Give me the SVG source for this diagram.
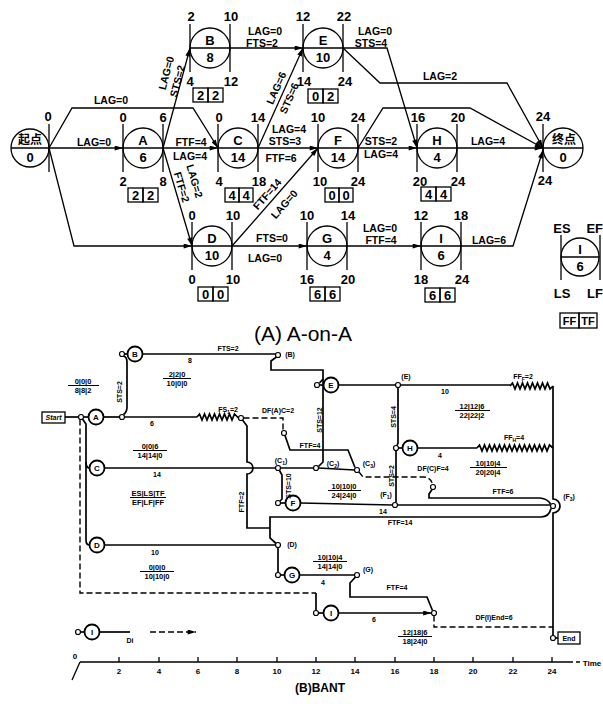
<svg xmlns="http://www.w3.org/2000/svg" width="603" height="709" viewBox="0 0 603 709">
<defs>
<style>
.l{stroke:#000;stroke-width:1.3;fill:none}
.n circle,.n line,.n rect{stroke:#000;stroke-width:1.3;fill:none}
.t{font-family:"Liberation Sans",Arial,sans-serif;font-weight:bold;fill:#000;text-anchor:middle}
.num{font-size:13px}
.lb{font-size:10.5px}
.cjk{font-family:"Liberation Sans","Noto Sans CJK SC",sans-serif;font-weight:bold;font-size:12px;text-anchor:middle}
.bl{stroke:#000;stroke-width:1.7;fill:none}
.bd{stroke:#000;stroke-width:1.4;fill:none;stroke-dasharray:6 3}
.bn circle{stroke:#000;stroke-width:1.8;fill:#fff}
.dot{fill:#fff;stroke:#000;stroke-width:1.2}
.s{font-size:7px}
.fr line{stroke:#000;stroke-width:1}
</style>
<marker id="ar" viewBox="0 0 10 6" refX="10" refY="3" markerWidth="9" markerHeight="5" orient="auto" markerUnits="userSpaceOnUse"><path d="M0,0 L10,3 L0,6 z" fill="#000"/></marker>
</defs>
<rect width="603" height="709" fill="#fff"/>

<!-- ===== (A) A-on-A ===== -->
<g id="aoa-edges" class="l">
<path d="M49,148 L123,148" marker-end="url(#ar)"/>
<path d="M49,148 L72,108 L193,108 L218,148" marker-end="url(#ar)"/>
<path d="M49,148 L74,246 L192,246" marker-end="url(#ar)"/>
<path d="M163,148 L218,148" marker-end="url(#ar)"/>
<path d="M163,148 L190,48" marker-end="url(#ar)"/>
<path d="M163,148 L192,246" marker-end="url(#ar)"/>
<path d="M230,48 L303,48" marker-end="url(#ar)"/>
<path d="M258,148 L303,48" marker-end="url(#ar)"/>
<path d="M258,148 L318,148" marker-end="url(#ar)"/>
<path d="M232,246 L318,148" marker-end="url(#ar)"/>
<path d="M232,246 L307,246" marker-end="url(#ar)"/>
<path d="M343,48 L387,48 L417,148" marker-end="url(#ar)"/>
<path d="M343,48 L380,83 L507,83 L543,148" marker-end="url(#ar)"/>
<path d="M358,148 L417,148" marker-end="url(#ar)"/>
<path d="M358,148 L383,108 L470,108 L543,148" marker-end="url(#ar)"/>
<path d="M457,148 L543,148" marker-end="url(#ar)"/>
<path d="M347,246 L421,246" marker-end="url(#ar)"/>
<path d="M461,246 L513,246 L543,150" marker-end="url(#ar)"/>
</g>
<g id="aoa-edge-labels" class="t lb">
<text x="111" y="104">LAG=0</text>
<text x="94" y="146">LAG=0</text>
<text x="191" y="146">FTF=4</text>
<text x="190" y="160">LAG=4</text>
<text transform="translate(166,73) rotate(-75)" y="4">LAG=0</text>
<text transform="translate(177,81) rotate(-75)" y="4">STS=2</text>
<text transform="translate(195,181) rotate(73.5)" y="4">LAG=2</text>
<text transform="translate(182,187) rotate(73.5)" y="4">FTF=2</text>
<text x="265" y="35">LAG=0</text>
<text x="262" y="47">FTS=2</text>
<text transform="translate(276,88) rotate(-66)" y="4">LAG=6</text>
<text transform="translate(289,98) rotate(-66)" y="4">STS=6</text>
<text x="289" y="133">LAG=4</text>
<text x="285" y="145">STS=3</text>
<text x="281" y="162">FTF=6</text>
<text x="375" y="35">LAG=0</text>
<text x="371" y="47">STS=4</text>
<text x="440" y="80">LAG=2</text>
<text x="381" y="145">STS=2</text>
<text x="381" y="158">LAG=4</text>
<text x="488" y="145">LAG=4</text>
<text transform="translate(267,194) rotate(-49)" y="4">FTF=14</text>
<text transform="translate(284,204) rotate(-49)" y="4">LAG=0</text>
<text x="272" y="242">FTS=0</text>
<text x="265" y="262">LAG=0</text>
<text x="380" y="232">LAG=0</text>
<text x="381" y="244">FTF=4</text>
<text x="489" y="244">LAG=6</text>
</g>

<g id="start" class="n">
<circle cx="30" cy="148" r="19"/>
<line x1="11" y1="148" x2="49" y2="148"/>
<line x1="49" y1="124" x2="49" y2="172"/>
<text class="cjk" x="30" y="144">起点</text>
<text class="t num" x="30" y="162">0</text>
<text class="t num" x="48" y="121">0</text>
</g>
<g id="end" class="n">
<circle cx="563" cy="148" r="20"/>
<line x1="543" y1="148" x2="583" y2="148"/>
<line x1="543" y1="124" x2="543" y2="172"/>
<text class="cjk" x="564" y="144">终点</text>
<text class="t num" x="563" y="162">0</text>
<text class="t num" x="543" y="121">24</text>
<text class="t num" x="545" y="185">24</text>
</g>

<g id="nA" class="n">
<circle cx="143" cy="148" r="20"/><line x1="123" y1="148" x2="163" y2="148"/>
<line x1="123" y1="124" x2="123" y2="172"/><line x1="163" y1="124" x2="163" y2="172"/>
<text class="t num" x="143" y="145">A</text><text class="t num" x="143" y="162">6</text>
<text class="t num" x="123" y="122">0</text><text class="t num" x="163" y="122">6</text>
<text class="t num" x="123" y="186">2</text><text class="t num" x="163" y="186">8</text>
<rect x="128" y="188" width="15" height="14"/><rect x="143" y="188" width="15" height="14"/>
<text class="t num" x="135.5" y="200">2</text><text class="t num" x="150.5" y="200">2</text>
</g>
<g id="nB" class="n">
<circle cx="210" cy="48" r="20"/><line x1="190" y1="48" x2="230" y2="48"/>
<line x1="190" y1="24" x2="190" y2="72"/><line x1="230" y1="24" x2="230" y2="72"/>
<text class="t num" x="210" y="45">B</text><text class="t num" x="210" y="62">8</text>
<text class="t num" x="191" y="21">2</text><text class="t num" x="231" y="21">10</text>
<text class="t num" x="190" y="86">4</text><text class="t num" x="231" y="86">12</text>
<rect x="193" y="88" width="15" height="14"/><rect x="208" y="88" width="15" height="14"/>
<text class="t num" x="200.5" y="100">2</text><text class="t num" x="215.5" y="100">2</text>
</g>
<g id="nC" class="n">
<circle cx="238" cy="148" r="20"/><line x1="218" y1="148" x2="258" y2="148"/>
<line x1="218" y1="124" x2="218" y2="172"/><line x1="258" y1="124" x2="258" y2="172"/>
<text class="t num" x="238" y="145">C</text><text class="t num" x="238" y="162">14</text>
<text class="t num" x="219" y="122">0</text><text class="t num" x="258" y="122">14</text>
<text class="t num" x="219" y="186">4</text><text class="t num" x="259" y="186">18</text>
<rect x="225" y="188" width="14" height="14"/><rect x="239" y="188" width="14" height="14"/>
<text class="t num" x="232" y="200">4</text><text class="t num" x="246" y="200">4</text>
</g>
<g id="nD" class="n">
<circle cx="212" cy="246" r="20"/><line x1="192" y1="246" x2="232" y2="246"/>
<line x1="192" y1="222" x2="192" y2="270"/><line x1="232" y1="222" x2="232" y2="270"/>
<text class="t num" x="212" y="243">D</text><text class="t num" x="212" y="260">10</text>
<text class="t num" x="192" y="220">0</text><text class="t num" x="233" y="220">10</text>
<text class="t num" x="192" y="284">0</text><text class="t num" x="233" y="284">10</text>
<rect x="198" y="287" width="15" height="14"/><rect x="213" y="287" width="15" height="14"/>
<text class="t num" x="205.5" y="299">0</text><text class="t num" x="220.5" y="299">0</text>
</g>
<g id="nE" class="n">
<circle cx="323" cy="48" r="20"/><line x1="303" y1="48" x2="343" y2="48"/>
<line x1="303" y1="24" x2="303" y2="72"/><line x1="343" y1="24" x2="343" y2="72"/>
<text class="t num" x="323" y="45">E</text><text class="t num" x="323" y="62">10</text>
<text class="t num" x="303" y="21">12</text><text class="t num" x="344" y="21">22</text>
<text class="t num" x="304" y="86">14</text><text class="t num" x="345" y="86">24</text>
<rect x="308" y="89" width="15" height="14"/><rect x="323" y="89" width="15" height="14"/>
<text class="t num" x="315.5" y="101">0</text><text class="t num" x="330.5" y="101">2</text>
</g>
<g id="nF" class="n">
<circle cx="338" cy="148" r="20"/><line x1="318" y1="148" x2="358" y2="148"/>
<line x1="318" y1="124" x2="318" y2="172"/><line x1="358" y1="124" x2="358" y2="172"/>
<text class="t num" x="338" y="145">F</text><text class="t num" x="338" y="162">14</text>
<text class="t num" x="318" y="122">10</text><text class="t num" x="358" y="122">24</text>
<text class="t num" x="320" y="186">10</text><text class="t num" x="358" y="186">24</text>
<rect x="325" y="188" width="14" height="14"/><rect x="339" y="188" width="14" height="14"/>
<text class="t num" x="332" y="200">0</text><text class="t num" x="346" y="200">0</text>
</g>
<g id="nG" class="n">
<circle cx="327" cy="246" r="20"/><line x1="307" y1="246" x2="347" y2="246"/>
<line x1="307" y1="222" x2="307" y2="270"/><line x1="347" y1="222" x2="347" y2="270"/>
<text class="t num" x="327" y="243">G</text><text class="t num" x="327" y="260">4</text>
<text class="t num" x="307" y="220">10</text><text class="t num" x="348" y="220">14</text>
<text class="t num" x="307" y="284">16</text><text class="t num" x="348" y="284">20</text>
<rect x="310" y="287" width="15" height="14"/><rect x="325" y="287" width="15" height="14"/>
<text class="t num" x="317.5" y="299">6</text><text class="t num" x="332.5" y="299">6</text>
</g>
<g id="nH" class="n">
<circle cx="437" cy="148" r="20"/><line x1="417" y1="148" x2="457" y2="148"/>
<line x1="417" y1="124" x2="417" y2="172"/><line x1="457" y1="124" x2="457" y2="172"/>
<text class="t num" x="437" y="145">H</text><text class="t num" x="437" y="162">4</text>
<text class="t num" x="418" y="122">16</text><text class="t num" x="458" y="122">20</text>
<text class="t num" x="420" y="186">20</text><text class="t num" x="458" y="186">24</text>
<rect x="421" y="187" width="15" height="14"/><rect x="436" y="187" width="15" height="14"/>
<text class="t num" x="428.5" y="199">4</text><text class="t num" x="443.5" y="199">4</text>
</g>
<g id="nI" class="n">
<circle cx="441" cy="246" r="20"/><line x1="421" y1="246" x2="461" y2="246"/>
<line x1="421" y1="222" x2="421" y2="270"/><line x1="461" y1="222" x2="461" y2="270"/>
<text class="t num" x="441" y="243">I</text><text class="t num" x="441" y="260">6</text>
<text class="t num" x="421" y="220">12</text><text class="t num" x="461" y="220">18</text>
<text class="t num" x="421" y="284">18</text><text class="t num" x="462" y="284">24</text>
<rect x="425" y="288" width="15" height="14"/><rect x="440" y="288" width="15" height="14"/>
<text class="t num" x="432.5" y="300">6</text><text class="t num" x="447.5" y="300">6</text>
</g>
<g id="legend-aoa" class="n">
<circle cx="580" cy="257" r="19"/><line x1="561" y1="257" x2="599" y2="257"/>
<line x1="561" y1="235" x2="561" y2="280"/><line x1="600" y1="235" x2="600" y2="280"/>
<text class="t num" x="580" y="254">I</text><text class="t num" x="580" y="271">6</text>
<text class="t num" x="562" y="233">ES</text><text class="t num" x="603" y="233" style="text-anchor:end">EF</text>
<text class="t num" x="562" y="298">LS</text><text class="t num" x="603" y="298" style="text-anchor:end">LF</text>
<rect x="560" y="313" width="19" height="15"/><rect x="579" y="313" width="18" height="15"/>
<text class="t" style="font-size:11px" x="569.5" y="325">FF</text><text class="t" style="font-size:11px" x="588" y="325">TF</text>
</g>
<text id="title-a" class="t" style="font-size:21px;font-weight:normal" x="303" y="341">(A) A-on-A</text>

<!-- ===== (B) BANT ===== -->
<g id="bant-edges">
<path class="bl" d="M65,417 H78.5"/>
<path class="bl" d="M83.5,417 H88.5"/>
<path class="bl" d="M103.5,417 H119.5"/>
<path class="bl" d="M124.5,417 H197"/>
<polyline class="bl" points="197,417 199.5,414 202,420 204.5,414 207,420 209.5,414 212,420 214.5,414 217,420 219.5,414 222,420 224.5,414 227,420 229.5,414 232,420 234.5,414 238.5,418"/>
<path class="bd" d="M243.5,418 H283 V430"/>
<path class="bl" d="M285,435.5 L290,450 H348 L355,467.5"/>
<path class="bl" d="M242.5,420 L247,426 V462 A6,6 0 0 1 247,474 V528 H270"/>
<path class="bl" d="M123.5,414.5 Q127,412 127,407 V362 Q127,357 123.5,356"/>
<path class="bl" d="M124.5,354 H127.5"/>
<path class="bl" d="M142.5,354 H275.5"/>
<path class="bl" d="M276.5,357 L271,361 V370 H323 V462 L318.5,466.5"/>
<path class="bl" d="M319.5,383 L323,379"/>
<path class="bl" d="M319.5,385 H323.5"/>
<path class="bl" d="M338.5,385 H395.5"/>
<path class="bl" d="M400.5,385 H510"/>
<polyline class="bl" points="510,386 512.5,383 515,389 517.5,383 520,389 522.5,383 525,389 527.5,383 530,389 532.5,383 535,389 537.5,383 540,389 542.5,383 545,389 547.5,383 550,389 553,386"/>
<path class="bl" d="M553,386 V499 A7,7 0 0 1 553,513 V635.5"/>
<path class="bl" d="M398,387.5 V443 L397,445.5"/>
<path class="bl" d="M398.5,448 H402.5"/>
<path class="bl" d="M417.5,448 H477"/>
<polyline class="bl" points="477,448 479.5,445 482,451 484.5,445 487,451 489.5,445 492,451 494.5,445 497,451 499.5,445 502,451 504.5,445 507,451 509.5,445 512,451 514.5,445 517,451 519.5,445 522,451 524.5,445 527,451 529.5,445 532,451 534.5,445 537,451 539.5,445 542,451 544.5,445 547,451 549.5,445 553,448"/>
<path class="bl" d="M396,450.5 V502.5"/>
<path class="bl" d="M82.5,419 L86,424 V540 Q86,545 89.5,545"/>
<path class="bl" d="M86,462 Q86,468 89.5,468"/>
<path class="bd" d="M80,419.5 V593 H316"/>
<path class="bl" d="M316,593 V610.5"/>
<path class="bl" d="M104.5,468 H275.5"/>
<path class="bl" d="M280.5,468 H313.5"/>
<path class="bl" d="M318.5,468 L354.5,470"/>
<path class="bl" d="M279.5,470.5 L282,475 V499 L280,501"/>
<path class="bl" d="M280.5,503 H285.5"/>
<path class="bl" d="M300.5,503 L392.5,505"/>
<path class="bl" d="M397.5,505 H550.5"/>
<path class="bd" d="M359,472 L363,477 H423 Q431,477 432.5,484.5"/>
<path class="bl" d="M432,489.5 L429,494 V498 H540 Q548,499 550.5,504"/>
<path class="bl" d="M276,543.5 L270,538 V517 H541 Q549,517 551,508.5"/>
<path class="bl" d="M104.5,545 H275.5"/>
<path class="bl" d="M278,547.5 V572.5"/>
<path class="bl" d="M280.5,575 H284.5"/>
<path class="bl" d="M299.5,575 H354.5"/>
<path class="bl" d="M355.5,577 L350,583 V597 H427 L432.5,610.5"/>
<path class="bl" d="M318.5,613 H323.5"/>
<path class="bl" d="M338.5,613 H431.5" marker-end="url(#ar)"/>
<path class="bd" d="M434,615.5 V627 H553"/>
<path class="bl" d="M555.5,638 H558"/>
<path class="bl" d="M80.5,632 H84.5"/>
<path class="bl" d="M99.5,632 H130"/>
<path class="bd" d="M150,632 H196" marker-end="url(#ar)"/>
</g>

<g id="bant-dots">
<circle class="dot" cx="81" cy="417" r="2.5"/>
<circle class="dot" cx="122" cy="417" r="2.5"/>
<circle class="dot" cx="122" cy="354" r="2.5"/>
<circle class="dot" cx="278" cy="355" r="2.5"/>
<circle class="dot" cx="317" cy="385" r="2.5"/>
<circle class="dot" cx="398" cy="385" r="2.5"/>
<circle class="dot" cx="241" cy="418" r="2.5"/>
<circle class="dot" cx="284" cy="433" r="2.5"/>
<circle class="dot" cx="396" cy="448" r="2.5"/>
<circle class="dot" cx="278" cy="468" r="2.5"/>
<circle class="dot" cx="316" cy="468" r="2.5"/>
<circle class="dot" cx="357" cy="470" r="2.5"/>
<circle class="dot" cx="433" cy="487" r="2.5"/>
<circle class="dot" cx="278" cy="503" r="2.5"/>
<circle class="dot" cx="395" cy="505" r="2.5"/>
<circle class="dot" cx="553" cy="506" r="2.5"/>
<circle class="dot" cx="278" cy="545" r="2.5"/>
<circle class="dot" cx="278" cy="575" r="2.5"/>
<circle class="dot" cx="357" cy="575" r="2.5"/>
<circle class="dot" cx="316" cy="613" r="2.5"/>
<circle class="dot" cx="434" cy="613" r="2.5"/>
<circle class="dot" cx="553" cy="638" r="2.5"/>
<circle class="dot" cx="78" cy="632" r="2.5"/>
</g>

<g id="b-start"><rect x="42" y="412" width="23" height="11" fill="#fff" stroke="#000" stroke-width="1.3"/><text class="t" style="font-size:7px;font-style:italic" x="53.5" y="420">Start</text></g>
<g id="b-A" class="bn"><circle cx="96" cy="417" r="7.5"/><text class="t" style="font-size:8px" x="96" y="420">A</text></g>
<g id="b-B" class="bn"><circle cx="135" cy="354" r="7.5"/><text class="t" style="font-size:8px" x="135" y="357">B</text></g>
<g id="b-C" class="bn"><circle cx="97" cy="468" r="7.5"/><text class="t" style="font-size:8px" x="97" y="471">C</text></g>
<g id="b-D" class="bn"><circle cx="97" cy="545" r="7.5"/><text class="t" style="font-size:8px" x="97" y="548">D</text></g>
<g id="b-E" class="bn"><circle cx="331" cy="385" r="7.5"/><text class="t" style="font-size:8px" x="331" y="388">E</text></g>
<g id="b-F" class="bn"><circle cx="293" cy="503" r="7.5"/><text class="t" style="font-size:8px" x="293" y="506">F</text></g>
<g id="b-G" class="bn"><circle cx="292" cy="575" r="7.5"/><text class="t" style="font-size:8px" x="292" y="578">G</text></g>
<g id="b-H" class="bn"><circle cx="410" cy="448" r="7.5"/><text class="t" style="font-size:8px" x="410" y="451">H</text></g>
<g id="b-I" class="bn"><circle cx="331" cy="613" r="7.5"/><text class="t" style="font-size:8px" x="331" y="616">I</text></g>
<g id="b-End"><rect x="558" y="632" width="22" height="12" fill="#fff" stroke="#000" stroke-width="1.3"/><text class="t" style="font-size:7px" x="569" y="641">End</text></g>
<g id="b-legend" class="bn"><circle cx="92" cy="632" r="7.5"/><text class="t" style="font-size:8px" x="92" y="635">I</text><text class="t s" x="130" y="643">Di</text></g>

<g id="bant-labels" class="t s">
<text transform="translate(119,392) rotate(-90)" y="2.5">STS=2</text>
<text x="228" y="351">FTS=2</text>
<text x="190" y="363">8</text>
<text x="290" y="357">(B)</text>
<text x="406" y="379">(E)</text>
<text x="445" y="394">10</text>
<text x="523" y="379">FF<tspan font-size="5" dy="1.5">F</tspan><tspan dy="-1.5">=2</tspan></text>
<text transform="translate(319,420) rotate(-90)" y="2.5">STS=12</text>
<text transform="translate(393,417) rotate(-90)" y="2.5">STS=4</text>
<text x="514" y="440">FF<tspan font-size="5" dy="1.5">H</tspan><tspan dy="-1.5">=4</tspan></text>
<text x="440" y="458">4</text>
<text x="433" y="471">DF(C)F=4</text>
<text transform="translate(391,476) rotate(-90)" y="2.5">STS=2</text>
<text x="152" y="426">6</text>
<text x="228" y="412">FS<tspan font-size="5" dy="1.5">1</tspan><tspan dy="-1.5">=2</tspan></text>
<text x="278" y="413">DF(A)C=2</text>
<text x="310" y="448">FTF=4</text>
<text x="281" y="463">(C<tspan font-size="5" dy="1.5">1</tspan><tspan dy="-1.5">)</tspan></text>
<text x="333" y="466">(C<tspan font-size="5" dy="1.5">2</tspan><tspan dy="-1.5">)</tspan></text>
<text x="369" y="466">(C<tspan font-size="5" dy="1.5">3</tspan><tspan dy="-1.5">)</tspan></text>
<text transform="translate(288,486) rotate(-90)" y="2.5">STS=10</text>
<text x="157" y="477">14</text>
<text x="383" y="514">14</text>
<text x="386" y="497">(F<tspan font-size="5" dy="1.5">1</tspan><tspan dy="-1.5">)</tspan></text>
<text x="569" y="499">(F<tspan font-size="5" dy="1.5">3</tspan><tspan dy="-1.5">)</tspan></text>
<text x="503" y="494">FTF=6</text>
<text x="400" y="525">FTF=14</text>
<text transform="translate(241,502) rotate(-90)" y="2.5">FTF=2</text>
<text x="155" y="555">10</text>
<text x="292" y="547">(D)</text>
<text x="368" y="572">(G)</text>
<text x="323" y="585">4</text>
<text x="397" y="590">FTF=4</text>
<text x="374" y="622">6</text>
<text x="494" y="620">DF(I)End=6</text>
</g>

<g id="fractions" class="t fr" style="font-size:7.5px">
<text x="83" y="384">0|0|0</text><line x1="68" y1="385.5" x2="99" y2="385.5"/><text x="83" y="393">8|8|2</text>
<text x="177" y="377">2|2|0</text><line x1="163" y1="378.5" x2="191" y2="378.5"/><text x="177" y="386">10|0|0</text>
<text x="150" y="449">0|0|6</text><line x1="133" y1="450.5" x2="167" y2="450.5"/><text x="150" y="458">14|14|0</text>
<text x="148" y="496">ES|LS|TF</text><line x1="130" y1="497.5" x2="166" y2="497.5"/><text x="148" y="505">EF|LF|FF</text>
<text x="157" y="570">0|0|0</text><line x1="140" y1="571.5" x2="174" y2="571.5"/><text x="157" y="579">10|10|0</text>
<text x="472" y="409">12|12|6</text><line x1="455" y1="410.5" x2="490" y2="410.5"/><text x="472" y="418">22|22|2</text>
<text x="488" y="466">10|10|4</text><line x1="470" y1="467.5" x2="507" y2="467.5"/><text x="488" y="475">20|20|4</text>
<text x="344" y="489">10|10|0</text><line x1="328" y1="490.5" x2="361" y2="490.5"/><text x="344" y="498">24|24|0</text>
<text x="330" y="560">10|10|4</text><line x1="313" y1="561.5" x2="347" y2="561.5"/><text x="330" y="569">14|14|0</text>
<text x="415" y="635">12|18|6</text><line x1="398" y1="636.5" x2="432" y2="636.5"/><text x="415" y="644">18|24|0</text>
</g>

<g id="axis">
<path class="bl" style="stroke-width:1.3" d="M80,662 H573 M576,662 H580 M80,662 L72,680"/>
<g class="l">
<path d="M119,657 V662 M159,657 V662 M198,657 V662 M237,657 V662 M277,657 V662 M316,657 V662 M355,657 V662 M395,657 V662 M434,657 V662 M473,657 V662 M513,657 V662 M552,657 V662"/>
</g>
<g class="t" style="font-size:8px">
<text x="75" y="659">0</text>
<text x="119" y="674">2</text><text x="159" y="674">4</text><text x="198" y="674">6</text><text x="237" y="674">8</text>
<text x="277" y="674">10</text><text x="316" y="674">12</text><text x="355" y="674">14</text><text x="395" y="674">16</text>
<text x="434" y="674">18</text><text x="473" y="674">20</text><text x="513" y="674">22</text><text x="552" y="674">24</text>
<text x="592" y="666">Time</text>
</g>
</g>
<text id="title-b" class="t" style="font-size:12px" x="320" y="692">(B)BANT</text>
</svg>
